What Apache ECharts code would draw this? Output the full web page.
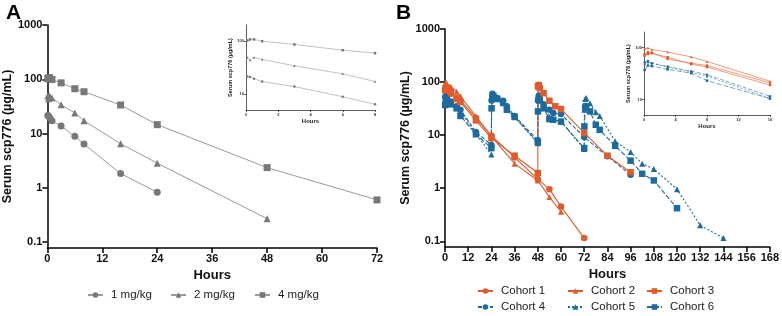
<!DOCTYPE html>
<html>
<head>
<meta charset="utf-8">
<script src="https://cdn.jsdelivr.net/npm/echarts@6/dist/echarts.min.js"></script>
<style>
  html, body { margin: 0; padding: 0; background: #fff; }
  #chart { width: 782px; height: 316px; }
</style>
</head>
<body>
<div id="chart"></div>
<script>
// ---- panel A : single dose groups ----
const doseNames = ['1 mg/kg', '2 mg/kg', '4 mg/kg'];
const doseTimes = [0.083, 0.25, 0.5, 1, 3, 6, 8, 16, 24, 48, 72];
const dose1Values = [21.5, 21, 19.5, 17.2, 13.8, 8.9, 6.4, 1.83, 0.83];
const dose2Values = [49, 44, 49, 45, 34, 24, 17.2, 6.5, 2.85, 0.27];
const dose4Values = [102, 107, 107, 99, 86, 67, 59, 33.6, 14.6, 2.36, 0.6];

// ---- panel B : cohorts ----
const cohortNames = ['Cohort 1', 'Cohort 2', 'Cohort 3', 'Cohort 4', 'Cohort 5', 'Cohort 6'];
const c1Times = [0.083, 0.5, 1, 3, 6, 8, 16, 24, 36, 48, 54, 60, 72];
const c1Values = [75, 82, 80, 60, 50, 45, 21, 9.8, 3.8, 1.48, 0.96, 0.45, 0.115];
const c2Times = [0.083, 0.5, 1, 3, 6, 8, 16, 24, 36, 48, 54, 60];
const c2Values = [95, 98, 92, 82, 66, 54, 22.5, 9.5, 2.9, 1.4, 0.68, 0.36];
const c3Times = [0.083, 0.5, 1, 3, 6, 8, 16, 24, 36, 48, 48.083, 48.5, 49, 51, 54, 57, 60, 72, 84, 96];
const c3Values = [70, 75, 78, 65, 48, 42, 19, 8.8, 4.1, 1.93, 83, 88, 77, 62, 44.5, 35, 31, 11, 4.1, 2.0];
const c4Times = [0.083, 0.5, 1, 3, 6, 8, 16, 24, 24.083, 24.5, 25, 27, 30, 32, 36, 48,
  48.083, 48.5, 49, 51, 54, 56, 60, 72, 84, 96];
const c4Values = [52, 55, 50, 43, 35, 30, 11.5, 6.5, 45, 60, 55, 50, 44.5, 35, 23, 8.0,
  45, 55, 50, 38, 30, 26, 25, 9.2, 4.0, 1.79];
const c5Times = [0.083, 0.5, 1, 3, 6, 8, 16, 24, 24.083, 24.5, 25, 27, 30, 32, 36, 48,
  48.083, 48.5, 49, 51, 54, 56, 60, 72, 72.083, 72.5, 73, 75, 78, 80, 88, 96, 102, 108, 120, 132, 144];
const c5Values = [48, 52, 50, 42, 33, 28, 10.5, 4.3, 50, 58, 55, 48, 40, 32, 22, 7.0,
  55, 58, 50, 36, 22, 20, 18, 5.5, 30, 48, 50, 40, 27, 23, 7.7, 4.8, 2.9, 2.3, 0.96, 0.2, 0.115];
const c6Times = [0.083, 0.5, 1, 3, 6, 8, 16, 24, 24.083, 24.5, 25, 27, 30, 32, 36, 48,
  48.083, 48.5, 49, 51, 54, 56, 60, 72, 72.083, 72.5, 73, 75, 78, 80, 88, 96, 102, 108, 120];
const c6Values = [37, 45, 44, 38, 32, 23, 10.4, 5.7, 32, 52, 55, 48, 42, 30, 22, 7.3,
  28, 48, 45, 32, 20, 19.5, 18, 5.7, 14.6, 33, 35, 28, 15.7, 12.6, 6.3, 3.3, 1.87, 1.4, 0.42];

const FONT = 'Arial, "Liberation Sans", sans-serif';
const GRAY_M = '#787878';
const GRAY_L = '#9a9a9a';
const ORANGE = '#E25A2C';
const BLUE = '#1D6A9E';

const pairs = (t, v, tMax) => v.map((y, i) => [t[i], y]).filter((p) => tMax == null || p[0] <= tMax);

const logLabel = (v) => (v >= 1 ? String(Math.round(v)) : String(+v.toFixed(2)));

function mainX(grid, max, name) {
  return {
    type: 'value', gridIndex: grid, min: 0, max: max, interval: 12,
    name: name, nameLocation: 'middle', nameGap: 20,
    nameTextStyle: { fontFamily: FONT, fontWeight: 'bold', fontSize: 13, color: '#111' },
    axisLine: { lineStyle: { color: '#000', width: 1.5 } },
    axisTick: { length: 5, lineStyle: { color: '#000', width: 1.5 } },
    axisLabel: { fontFamily: FONT, fontWeight: 'bold', fontSize: 11, color: '#111', margin: 5 },
    splitLine: { show: false },
  };
}
function mainY(grid, gap) {
  return {
    type: 'log', gridIndex: grid, min: 0.078, max: 1000, splitNumber: 4,
    name: 'Serum scp776 (µg/mL)', nameLocation: 'middle', nameGap: gap,
    nameTextStyle: { fontFamily: FONT, fontWeight: 'bold', fontSize: 12.5, color: '#111' },
    axisLine: { show: true, lineStyle: { color: '#000', width: 1.5 } },
    axisTick: { show: true, length: 5, lineStyle: { color: '#000', width: 1.5 } },
    axisLabel: { fontFamily: FONT, fontWeight: 'bold', fontSize: 11, color: '#111', margin: 5,
      showMinLabel: false, formatter: logLabel },
    splitLine: { show: false },
  };
}
function insetX(grid, max, step, gap) {
  return {
    type: 'value', gridIndex: grid, min: 0, max: max, interval: step,
    name: 'Hours', nameLocation: 'middle', nameGap: gap,
    nameTextStyle: { fontFamily: FONT, fontWeight: 'bold', fontSize: 6, color: '#222' },
    axisLine: { lineStyle: { color: '#333', width: 0.8 } },
    axisTick: { length: 2, lineStyle: { color: '#333', width: 0.8 } },
    axisLabel: { fontFamily: FONT, fontWeight: 'bold', fontSize: 4, color: '#333', margin: 3 },
    splitLine: { show: false },
  };
}
function insetY(grid, gap) {
  return {
    type: 'log', gridIndex: grid, min: 5, max: 200, splitNumber: 2,
    name: 'Serum scp776 (µg/mL)', nameLocation: 'middle', nameGap: gap,
    nameTextStyle: { fontFamily: FONT, fontWeight: 'bold', fontSize: 5.5, color: '#222' },
    axisLine: { show: true, lineStyle: { color: '#333', width: 0.8 } },
    axisTick: { show: true, length: 2, lineStyle: { color: '#333', width: 0.8 } },
    axisLabel: { fontFamily: FONT, fontWeight: 'bold', fontSize: 4, color: '#333', margin: 2,
      showMinLabel: false, showMaxLabel: false, formatter: logLabel },
    splitLine: { show: false },
  };
}

const doseSets = [
  { name: doseNames[0], values: dose1Values, symbol: 'circle', size: 7 },
  { name: doseNames[1], values: dose2Values, symbol: 'triangle', size: 7 },
  { name: doseNames[2], values: dose4Values, symbol: 'rect', size: 7 },
];
const cohortSets = [
  { name: cohortNames[3], t: c4Times, v: c4Values, symbol: 'circle', color: BLUE, dash: [4, 2] },
  { name: cohortNames[4], t: c5Times, v: c5Values, symbol: 'triangle', color: BLUE, dash: [2, 2] },
  { name: cohortNames[5], t: c6Times, v: c6Values, symbol: 'rect', color: BLUE, dash: [5, 2] },
  { name: cohortNames[0], t: c1Times, v: c1Values, symbol: 'circle', color: ORANGE, dash: 'solid' },
  { name: cohortNames[1], t: c2Times, v: c2Values, symbol: 'triangle', color: ORANGE, dash: 'solid' },
  { name: cohortNames[2], t: c3Times, v: c3Values, symbol: 'rect', color: ORANGE, dash: 'solid' },
];

const series = [];
doseSets.forEach((d) => {
  series.push({
    name: d.name, type: 'line', xAxisIndex: 0, yAxisIndex: 0,
    data: pairs(doseTimes, d.values), symbol: d.symbol, symbolSize: d.size,
    itemStyle: { color: GRAY_M }, lineStyle: { color: GRAY_L, width: 1 },
  });
  series.push({
    name: d.name, type: 'line', xAxisIndex: 2, yAxisIndex: 2,
    data: pairs(doseTimes, d.values, 8), symbol: d.symbol, symbolSize: 2.5,
    itemStyle: { color: GRAY_M }, lineStyle: { color: GRAY_L, width: 0.6 },
  });
});
cohortSets.forEach((c) => {
  series.push({
    name: c.name, type: 'line', xAxisIndex: 1, yAxisIndex: 1,
    data: pairs(c.t, c.v), symbol: c.symbol, symbolSize: c.symbol === 'triangle' ? 6 : 6.5,
    itemStyle: { color: c.color }, lineStyle: { color: c.color, width: 1.1, type: c.dash },
  });
  series.push({
    name: c.name, type: 'line', xAxisIndex: 3, yAxisIndex: 3,
    data: pairs(c.t, c.v, 16), symbol: c.symbol, symbolSize: 2.5,
    itemStyle: { color: c.color }, lineStyle: { color: c.color, width: 0.6, type: c.dash },
  });
});

// legends, one per item so the columns line up
const legendBase = {
  orient: 'horizontal', padding: 0, itemWidth: 15, itemHeight: 7, selectedMode: false,
  textStyle: { fontFamily: FONT, fontSize: 11.5, color: '#222', padding: [0, 0, 0, 3] },
};
const legendA = doseNames.map((n, i) => Object.assign({}, legendBase, {
  data: [n], left: [87, 170, 254][i], top: 289,
}));
const legendB = cohortNames.map((n, i) => Object.assign({}, legendBase, {
  data: [n], left: [477, 567, 646][i % 3], top: i < 3 ? 285 : 301,
}));

const chart = echarts.init(document.getElementById('chart'));
chart.setOption({
  animation: false,
  backgroundColor: '#fff',
  textStyle: { fontFamily: FONT },
  title: [
    { text: 'A', left: 1, top: -2, textStyle: { fontFamily: FONT, fontWeight: 'bold', fontSize: 21, color: '#000' } },
    { text: 'B', left: 391, top: -2, textStyle: { fontFamily: FONT, fontWeight: 'bold', fontSize: 21, color: '#000' } },
  ],
  grid: [
    { left: 42, top: 25, width: 335, height: 223 },
    { left: 445, top: 29, width: 326, height: 218 },
    { left: 246, top: 25, width: 129, height: 85 },
    { left: 644, top: 32, width: 126, height: 83 },
  ],
  xAxis: [
    mainX(0, 72, 'Hours'),
    mainX(1, 168, 'Hours'),
    insetX(2, 8, 2, 7),
    insetX(3, 16, 4, 7),
  ],
  yAxis: [
    mainY(0, 27),
    mainY(1, 28),
    insetY(2, 11),
    insetY(3, 10),
  ],
  legend: legendA.concat(legendB),
  series: series,
});
</script>
</body>
</html>
